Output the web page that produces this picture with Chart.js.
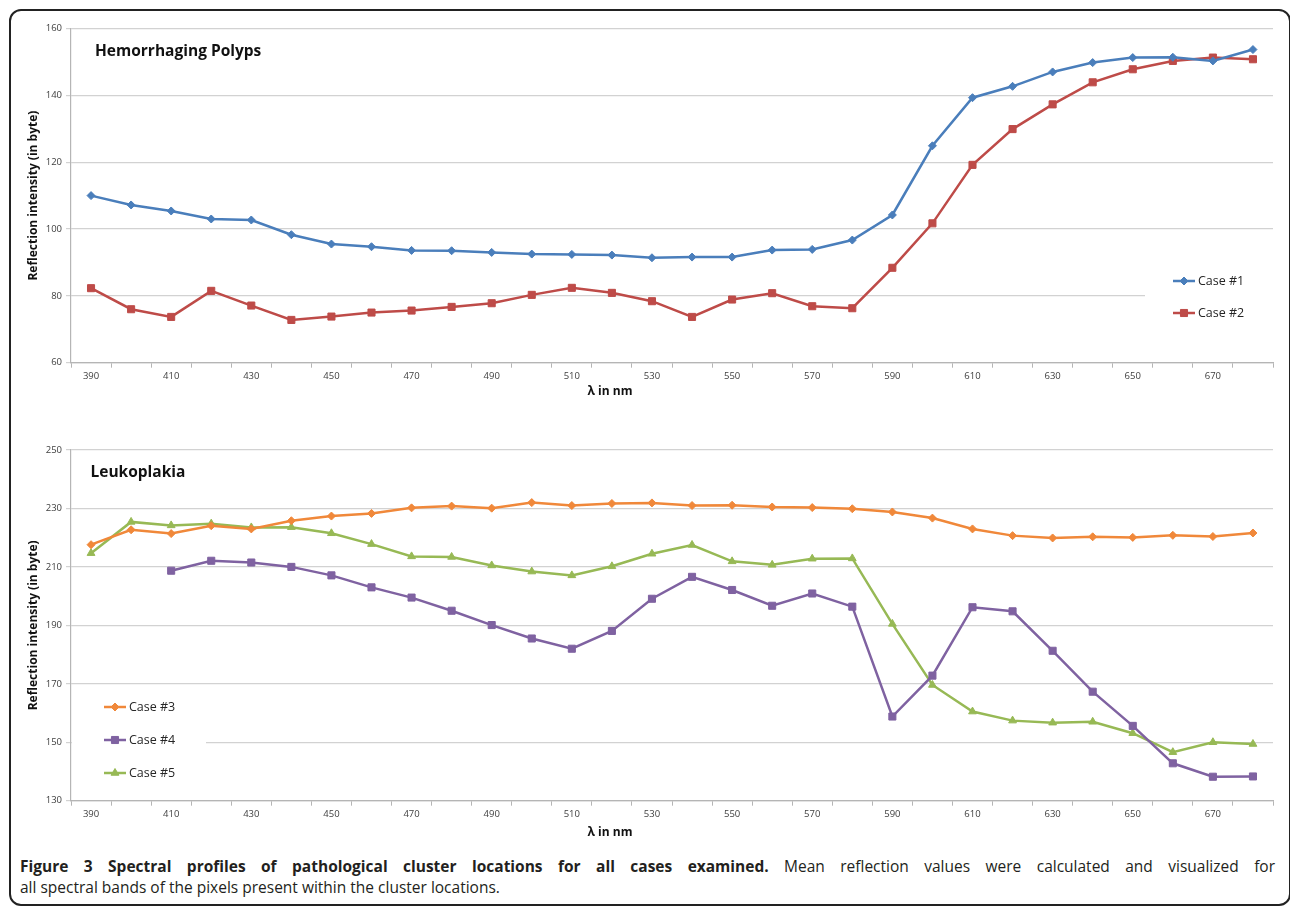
<!DOCTYPE html>
<html>
<head>
<meta charset="utf-8">
<script src="https://cdn.jsdelivr.net/npm/chart.js@4.4.1/dist/chart.umd.min.js"></script>
<style>
  html, body { margin: 0; padding: 0; background: #fff; }
  body { width: 1290px; height: 912px; position: relative; overflow: hidden; font-family: "Open Sans", sans-serif; }
  #frame { position: absolute; left: 9px; top: 9px; width: 1282px; height: 897px; border: 2px solid #222; border-radius: 12px; box-sizing: border-box; }
  canvas { position: absolute; left: 0; }
  #topChart { top: 0; }
  #bottomChart { top: 410px; }
  .caption { position: absolute; left: 20px; width: 1255px; font-size: 15.5px; line-height: 26px; color: #231f20; white-space: nowrap; }
  #cap1 { top: 853px; text-align: justify; text-align-last: justify; }
  #cap2 { top: 874px; }
</style>
</head>
<body>
<div id="frame"></div>
<canvas id="topChart" width="1290" height="410"></canvas>
<canvas id="bottomChart" width="1290" height="440"></canvas>
<div class="caption" id="cap1"><b>Figure 3 Spectral profiles of pathological cluster locations for all cases examined.</b> Mean reflection values were calculated and visualized for</div>
<div class="caption" id="cap2">all spectral bands of the pixels present within the cluster locations.</div>
<script>
// wavelengths (nm)
const wavelengths = [390, 400, 410, 420, 430, 440, 450, 460, 470, 480, 490, 500, 510, 520, 530,
                     540, 550, 560, 570, 580, 590, 600, 610, 620, 630, 640, 650, 660, 670, 680];

// Hemorrhaging Polyps
const case1 = [110.0, 107.2, 105.4, 103.0, 102.7, 98.3, 95.5, 94.7, 93.6, 93.5, 93.0, 92.5, 92.4, 92.2, 91.4,
               91.6, 91.6, 93.7, 93.9, 96.7, 104.2, 124.9, 139.3, 142.7, 147.0, 149.8, 151.3, 151.4, 150.3, 153.7];
const case2 = [82.3, 76.0, 73.7, 81.5, 77.1, 72.8, 73.8, 75.0, 75.6, 76.7, 77.8, 80.3, 82.4, 80.9, 78.4,
               73.7, 78.9, 80.8, 76.9, 76.3, 88.4, 101.7, 119.2, 129.9, 137.3, 143.9, 147.8, 150.3, 151.3, 150.8];

// Leukoplakia
const case3 = [217.6, 222.7, 221.4, 224.1, 223.0, 225.8, 227.4, 228.3, 230.2, 230.8, 230.1, 232.0, 231.0, 231.7, 231.9,
               231.0, 231.1, 230.5, 230.3, 229.9, 228.8, 226.7, 223.0, 220.7, 219.9, 220.3, 220.1, 220.8, 220.4, 221.6];
const case4 = [null, null, 208.7, 212.1, 211.5, 210.0, 207.1, 203.0, 199.5, 195.0, 190.1, 185.5, 182.0, 188.1, 199.1,
               206.6, 202.1, 196.7, 200.9, 196.4, 158.8, 172.8, 196.2, 194.8, 181.3, 167.3, 155.6, 142.8, 138.2, 138.3];
const case5 = [214.7, 225.4, 224.2, 224.8, 223.5, 223.6, 221.5, 217.8, 213.6, 213.4, 210.5, 208.4, 207.1, 210.2, 214.5,
               217.5, 211.9, 210.7, 212.8, 212.9, 190.5, 169.6, 160.5, 157.4, 156.7, 157.0, 153.1, 146.6, 150.0, 149.4];

const tickFont = { family: 'Open Sans', size: 9.5 };
const gridColor = '#d2d2d2';
const axisColor = '#b5b5b5';

function series(label, data, color, style, radius) {
  return {
    label, data,
    borderColor: color, backgroundColor: color,
    borderWidth: 2.5,
    pointStyle: style, pointRadius: radius, pointHoverRadius: radius,
    pointBorderWidth: 1, pointBorderColor: color, pointBackgroundColor: color,
    tension: 0
  };
}

// titles, x-axis label and the legend box that hides the grid behind it
const overlay = {
  id: 'overlay',
  beforeDatasetsDraw(chart, args, opts) {
    const ctx = chart.ctx;
    const lg = opts.legend;
    ctx.save();
    ctx.fillStyle = '#fff';
    ctx.fillRect(lg.box[0], lg.box[1], lg.box[2], lg.box[3]);
    chart.data.datasets.forEach((ds, i) => {
      const y = lg.y + i * lg.step;
      ctx.strokeStyle = ds.borderColor;
      ctx.lineWidth = ds.borderWidth;
      ctx.beginPath();
      ctx.moveTo(lg.x, y);
      ctx.lineTo(lg.x + 22, y);
      ctx.stroke();
      ctx.fillStyle = ds.borderColor;
      ctx.lineWidth = 1;
      Chart.helpers.drawPoint(ctx, { pointStyle: ds.pointStyle, radius: ds.pointRadius, rotation: 0, borderWidth: 1 }, lg.x + 11, y);
      ctx.fillStyle = '#262626';
      ctx.font = '12.5px "Open Sans"';
      ctx.textBaseline = 'middle';
      ctx.textAlign = 'left';
      ctx.fillText(ds.label, lg.x + 25, y);
    });
    ctx.restore();
  },
  afterDraw(chart, args, opts) {
    const ctx = chart.ctx;
    const a = chart.chartArea;
    ctx.save();
    ctx.fillStyle = '#111';
    ctx.textBaseline = 'middle';
    ctx.font = 'bold 15.5px "Open Sans"';
    ctx.textAlign = 'left';
    ctx.fillText(opts.title, a.left + opts.titleDx, a.top + opts.titleDy);
    ctx.font = 'bold 12px "Open Sans"';
    ctx.textAlign = 'center';
    ctx.fillText('λ in nm', 610, a.bottom + opts.xTitleDy);
    ctx.restore();
  }
};

function makeChart(id, datasets, yMin, yMax, padTop, xHeight, plugOpts) {
  return new Chart(document.getElementById(id), {
    type: 'line',
    data: { labels: wavelengths, datasets },
    plugins: [overlay],
    options: {
      responsive: false,
      animation: false,
      layout: { padding: { left: 22, right: 17, top: padTop, bottom: 0 } },
      plugins: {
        legend: { display: false },
        tooltip: { enabled: false },
        overlay: plugOpts
      },
      scales: {
        x: {
          type: 'category',
          offset: true,
          grid: { offset: true, drawOnChartArea: false, drawTicks: true, tickLength: 5, color: axisColor },
          border: { color: axisColor, width: 1.2 },
          ticks: {
            autoSkip: false, maxRotation: 0, padding: 3,
            font: tickFont, color: '#404040',
            callback: (v, i) => (i % 2 === 0 ? wavelengths[i] : '')
          },
          afterFit: s => { s.height = xHeight; }
        },
        y: {
          min: yMin, max: yMax,
          ticks: { stepSize: 20, font: tickFont, color: '#404040', padding: 4 },
          grid: { color: gridColor, lineWidth: 1.2, tickLength: 5 },
          border: { color: axisColor, width: 1.2 },
          title: {
            display: true, text: 'Reflection intensity (in byte)',
            font: { family: 'Open Sans', size: 12, weight: 'bold' }, color: '#111',
            padding: { top: 4, bottom: 0 }
          },
          afterFit: s => { s.width = 49; }
        }
      }
    }
  });
}

makeChart('topChart', [
  series('Case #1', case1, '#4a7ebb', 'rectRot', 4),
  series('Case #2', case2, '#be4b48', 'rect', 5)
], 60, 160, 28.5, 47.3, {
  title: 'Hemorrhaging Polyps', titleDx: 24, titleDy: 23.5, xTitleDy: 29,
  legend: { box: [1145, 262, 128, 70], x: 1173, y: 281, step: 32 }
});

makeChart('bottomChart', [
  series('Case #3', case3, '#f0883a', 'rectRot', 4),
  series('Case #4', case4, '#7f62a1', 'rect', 5),
  series('Case #5', case5, '#97b955', 'triangle', 4.5)
], 130, 250, 40, 49.3, {
  title: 'Leukoplakia', titleDx: 19.5, titleDy: 23, xTitleDy: 32,
  legend: { box: [72, 280, 134, 108], x: 104, y: 297, step: 33 }
});
</script>
</body>
</html>
